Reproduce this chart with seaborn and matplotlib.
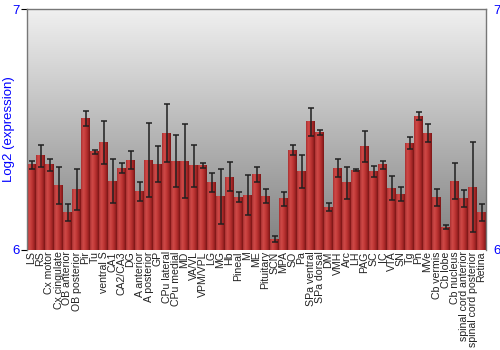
import numpy as np
import pandas as pd
import matplotlib
matplotlib.use("Agg")
import matplotlib.pyplot as plt
from matplotlib.colors import LinearSegmentedColormap
import seaborn as sns

regions = ["LS", "RS", "Cx motor", "Cx cingulate", "OB anterior", "OB posterior", "Pir", "Tu",
           "ventral S", "CA1", "CA2/CA3", "DG", "A anterior", "A posterior", "GP", "CPu lateral",
           "CPu medial", "MD", "VA/VL", "VPM/VPL", "LG", "MG", "Hb", "Pineal", "M", "ME",
           "Pituitary", "SCN", "MPA", "SO", "Pa", "SPa ventral", "SPa dorsal", "DM", "VMH", "Arc",
           "LH", "PAG", "SC", "IC", "VTA", "SN", "Tg", "Pn", "MVe", "Cb vermis", "Cb lobe",
           "Cb nucleus", "spinal cord anterior", "spinal cord posterior", "Retina"]
expression = [6.353, 6.391, 6.353, 6.267, 6.154, 6.252, 6.546, 6.408,
              6.447, 6.286, 6.340, 6.373, 6.242, 6.373, 6.357, 6.484,
              6.368, 6.368, 6.350, 6.350, 6.281, 6.221, 6.303, 6.219, 6.227, 6.313,
              6.223, 6.044, 6.212, 6.415, 6.325, 6.532, 6.487, 6.178, 6.340, 6.279,
              6.332, 6.429, 6.324, 6.353, 6.256, 6.231, 6.444, 6.555, 6.484, 6.217, 6.095,
              6.286, 6.214, 6.260, 6.156]
error = [0.015, 0.046, 0.026, 0.076, 0.036, 0.085, 0.030, 0.008,
         0.090, 0.091, 0.020, 0.039, 0.039, 0.154, 0.074, 0.120,
         0.108, 0.154, 0.087, 0.009, 0.040, 0.115, 0.060, 0.021, 0.082, 0.033,
         0.028, 0.013, 0.029, 0.020, 0.068, 0.059, 0.010, 0.015, 0.039, 0.066,
         0.003, 0.066, 0.023, 0.015, 0.050, 0.030, 0.024, 0.016, 0.037, 0.035, 0.010,
         0.075, 0.035, 0.187, 0.034]
y_ticks = [6, 7]
y_label = "Log2 (expression)"

df = pd.DataFrame({"region": regions, "expr": expression, "err": error})

sns.set_style("white")
plt.rcParams["font.family"] = ["Liberation Sans", "DejaVu Sans"]

fig = plt.figure(figsize=(5, 3.5), dpi=100)
ax = fig.add_axes([0.054, 0.286, 0.918, 0.688])

# background gradient
bg = np.linspace(0.94, 0.50, 256).reshape(-1, 1)
ax.imshow(bg, extent=[0, 1, 0, 1], transform=ax.transAxes, cmap="gray", vmin=0, vmax=1,
          aspect="auto", zorder=0, interpolation="bicubic")

sns.barplot(data=df, x="region", y="expr", order=regions, color="#b83030", width=0.9,
            errorbar=None, ax=ax, zorder=2, linewidth=0, saturation=1)

ymin, ymax = y_ticks[0], y_ticks[-1]
bar_cmap = LinearSegmentedColormap.from_list(
    "bar", ["#a83030", "#d04a48", "#c23a38", "#a82828", "#7a1616"])
grad = np.linspace(0, 1, 64).reshape(1, -1)
xs = []
for p in list(ax.patches):
    x0, w, h = p.get_x(), p.get_width(), p.get_height()
    top = p.get_y() + h
    xs.append(x0 + w / 2)
    ax.imshow(grad, extent=[x0, x0 + w, ymin, top], cmap=bar_cmap, aspect="auto",
              zorder=2.5, interpolation="bilinear")

ax.errorbar(xs, df["expr"], yerr=df["err"], fmt="none", ecolor="#202020", elinewidth=1.1,
            capsize=2.2, capthick=1.1, zorder=4)

ax.set_xlim(-0.5, len(regions) - 0.5)
ax.set_ylim(ymin, ymax)
ax.set_yticks(y_ticks)
ax.set_yticklabels([str(t) for t in y_ticks])
ax.tick_params(axis="y", colors="black", labelcolor="blue", labelsize=9.5, length=4,
               left=True, right=False, labelright=True, pad=1.5)
ax.tick_params(axis="x", labelrotation=90, labelsize=7.6, length=0, pad=1, labelcolor="#222222")
ax.set_xlabel("")
ax.set_ylabel(y_label, color="blue", fontsize=9.5)
ax.yaxis.set_label_coords(-0.026, 0.5)
for s in ["left", "top", "right"]:
    ax.spines[s].set_color("#777777")
    ax.spines[s].set_linewidth(1)
ax.spines["bottom"].set_visible(False)

fig.savefig("out.png", dpi=100)
